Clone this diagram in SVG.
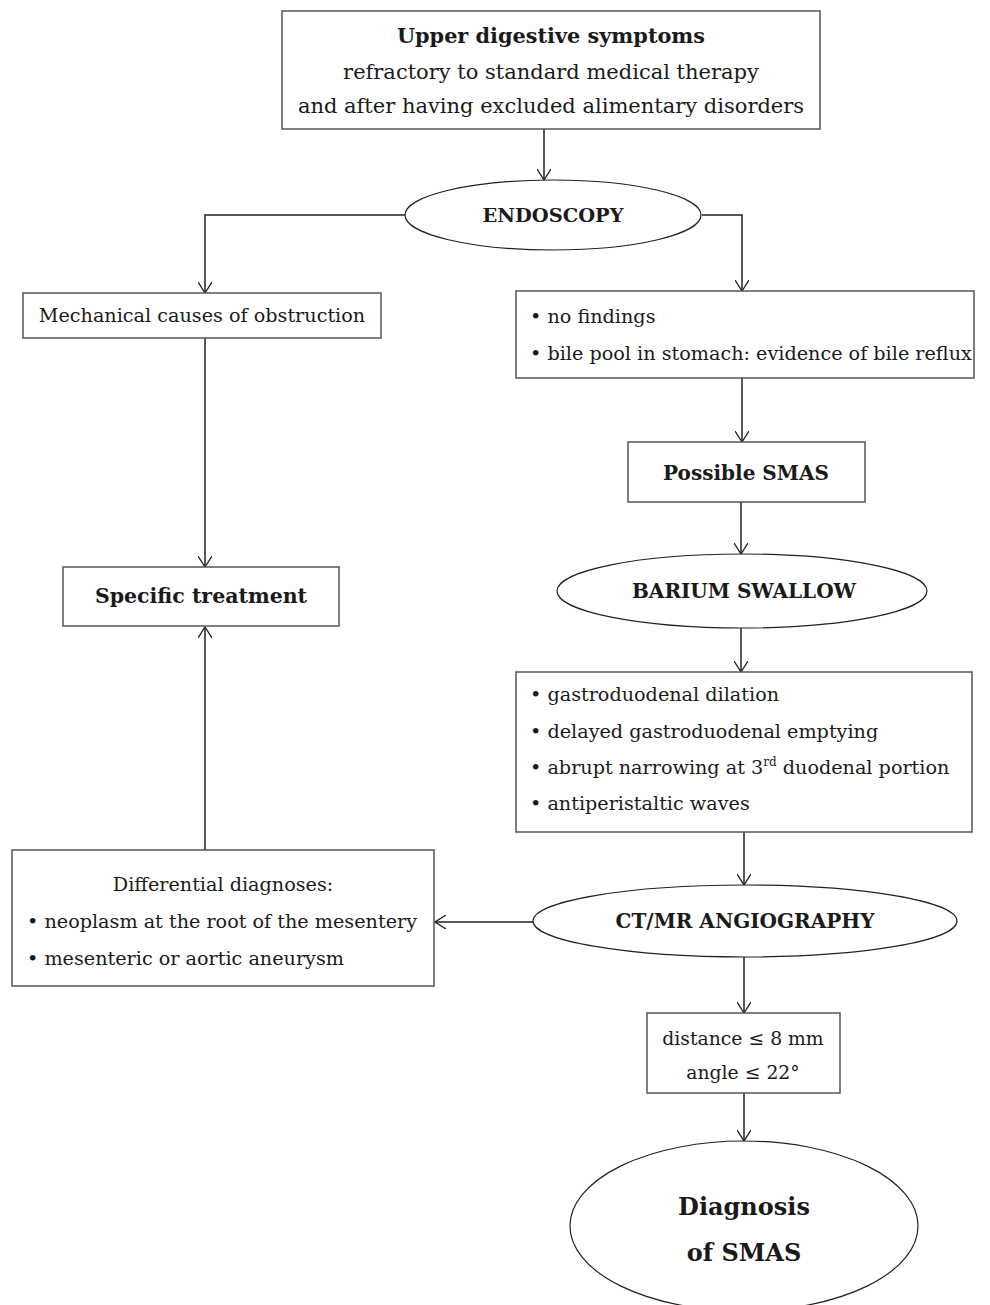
<svg xmlns="http://www.w3.org/2000/svg" width="990" height="1305" viewBox="0 0 990 1305">
<defs>
<marker id="arr" viewBox="0 0 12 14" refX="11" refY="7" markerWidth="12" markerHeight="14" markerUnits="userSpaceOnUse" orient="auto">
<path d="M0,0 L11,7 L0,14" fill="none" stroke="#222" stroke-width="1.3"/>
</marker>
<style>
.box{fill:#fff;stroke:#555;stroke-width:1.5}
.ell{fill:#fff;stroke:#222;stroke-width:1.2}
.t{font-family:"DejaVu Serif","Liberation Serif",serif;font-size:19.2px;fill:#1a1a1a}
.b{font-weight:bold;font-size:20px}
.c{text-anchor:middle}
.con{fill:none;stroke:#222;stroke-width:1.5;marker-end:url(#arr)}
</style>
</defs>
<rect width="990" height="1305" fill="#fff"/>
<g id="connectors">
<path class="con" d="M544,129 V180"/>
<path class="con" d="M405,215 H205 V293"/>
<path class="con" d="M702,215 H742 V291"/>
<path class="con" d="M742,378 V442"/>
<path class="con" d="M741,502 V554"/>
<path class="con" d="M741,628 V672"/>
<path class="con" d="M205,338 V567"/>
<path class="con" d="M744,832 V885"/>
<path class="con" d="M533,922 H435"/>
<path class="con" d="M205,850 V627"/>
<path class="con" d="M744,957 V1013"/>
<path class="con" d="M744,1093 V1141"/>
</g>
<g id="n-symptoms">
<rect class="box" x="282" y="11" width="538" height="118"/>
<text class="t b c" x="551" y="43" style="font-size:20.8px">Upper digestive symptoms</text>
<text class="t c" x="551" y="79" style="font-size:21px">refractory to standard medical therapy</text>
<text class="t c" x="551" y="113" style="font-size:21px">and after having excluded alimentary disorders</text>
</g>
<g id="n-endoscopy">
<ellipse class="ell" cx="553" cy="215" rx="148" ry="35"/>
<text class="t b c" x="553" y="222" style="font-size:19.4px">ENDOSCOPY</text>
</g>
<g id="n-mechanical">
<rect class="box" x="23" y="293" width="358" height="45"/>
<text class="t c" x="202" y="322">Mechanical causes of obstruction</text>
</g>
<g id="n-nofindings">
<rect class="box" x="516" y="291" width="458" height="87"/>
<text class="t" x="530" y="323">• no findings</text>
<text class="t" x="530" y="360">• bile pool in stomach: evidence of bile reflux</text>
</g>
<g id="n-possible">
<rect class="box" x="628" y="442" width="237" height="60"/>
<text class="t b c" x="746" y="480">Possible SMAS</text>
</g>
<g id="n-barium">
<ellipse class="ell" cx="742" cy="591" rx="185" ry="37"/>
<text class="t b c" x="744" y="598">BARIUM SWALLOW</text>
</g>
<g id="n-specific">
<rect class="box" x="63" y="567" width="276" height="59"/>
<text class="t b c" x="201" y="603" style="font-size:20.5px">Specific treatment</text>
</g>
<g id="n-findings">
<rect class="box" x="516" y="672" width="456" height="160"/>
<text class="t" x="530" y="701">• gastroduodenal dilation</text>
<text class="t" x="530" y="738">• delayed gastroduodenal emptying</text>
<text class="t" x="530" y="774">• abrupt narrowing at 3<tspan style="font-size:12px" dy="-8">rd</tspan><tspan dy="8"> duodenal portion</tspan></text>
<text class="t" x="530" y="810">• antiperistaltic waves</text>
</g>
<g id="n-ct">
<ellipse class="ell" cx="745" cy="921" rx="212" ry="36"/>
<text class="t b c" x="745" y="928">CT/MR ANGIOGRAPHY</text>
</g>
<g id="n-differential">
<rect class="box" x="12" y="850" width="422" height="136"/>
<text class="t c" x="223" y="891">Differential diagnoses:</text>
<text class="t" x="27" y="928">• neoplasm at the root of the mesentery</text>
<text class="t" x="27" y="965">• mesenteric or aortic aneurysm</text>
</g>
<g id="n-criteria">
<rect class="box" x="647" y="1013" width="193" height="80"/>
<text class="t c" x="743" y="1045" style="font-size:18.8px">distance ≤ 8 mm</text>
<text class="t c" x="743" y="1079" style="font-size:18.8px">angle ≤ 22°</text>
</g>
<g id="n-diagnosis">
<ellipse class="ell" cx="744" cy="1226" rx="174" ry="85"/>
<text class="t b c" x="744" y="1215" style="font-size:24px">Diagnosis</text>
<text class="t b c" x="744" y="1261" style="font-size:24px">of SMAS</text>
</g>
</svg>
